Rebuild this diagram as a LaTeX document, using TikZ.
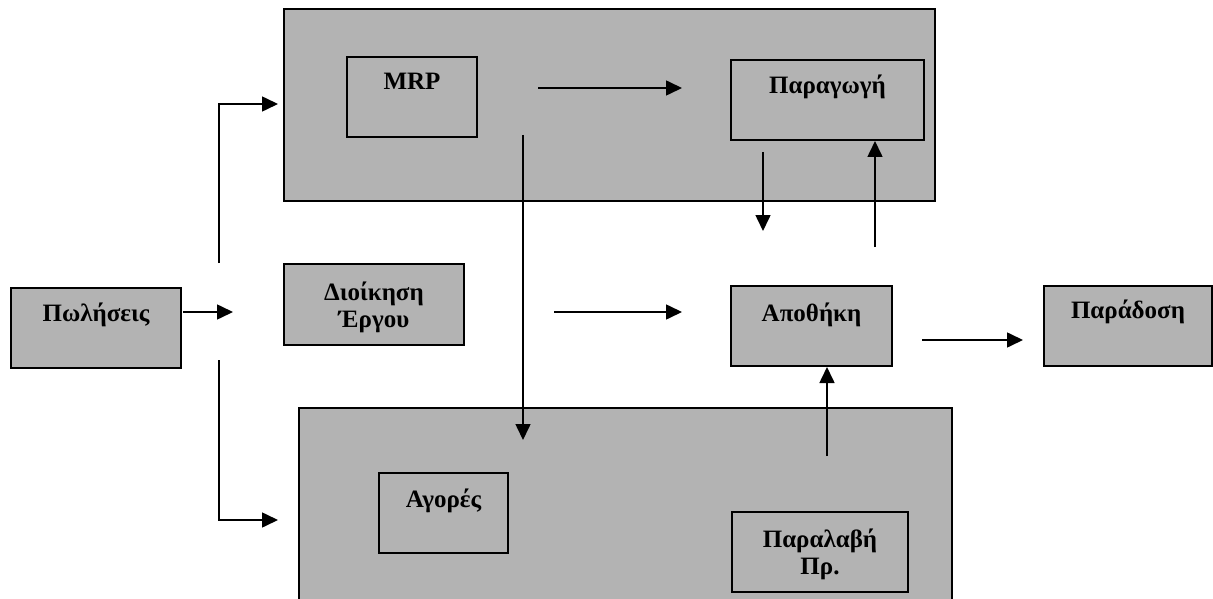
\documentclass[tikz,border=0pt]{standalone}
\usepackage{fontspec}
\setmainfont{Liberation Serif}
\usetikzlibrary{arrows.meta,calc}
\definecolor{boxgray}{RGB}{179,179,179}
\begin{document}
\begin{tikzpicture}[x=1pt,y=-1pt,
  panel/.style={draw, line width=2.2pt, fill=boxgray, anchor=north west, inner sep=0pt},
  unit/.style={draw, line width=2pt, fill=boxgray, anchor=north west, inner sep=0pt},
  lbl/.style={font=\bfseries\fontsize{25}{27}\selectfont, align=center, anchor=base, inner sep=0pt},
  flow/.style={line width=1.6pt, -{Triangle[length=16pt,width=15pt]}},
  wire/.style={line width=1.6pt}]
\useasboundingbox (0,0) rectangle (1213,599);

% large grey panels
\node[panel, minimum width=651pt, minimum height=192pt] (plan) at (283,8) {};
\node[panel, minimum width=653pt, minimum height=200pt] (supply) at (298,407) {};

% boxes
\node[unit, minimum width=130pt, minimum height=80pt] (mrp)   at (346,56)  {};
\node[unit, minimum width=193pt, minimum height=80pt] (prod)  at (730,59)  {};
\node[unit, minimum width=170pt, minimum height=80pt] (sales) at (10,287)  {};
\node[unit, minimum width=180pt, minimum height=81pt] (pm)    at (283,263) {};
\node[unit, minimum width=161pt, minimum height=80pt] (store) at (730,285) {};
\node[unit, minimum width=168pt, minimum height=80pt] (deliv) at (1043,285) {};
\node[unit, minimum width=129pt, minimum height=80pt] (buy)   at (378,472) {};
\node[unit, minimum width=176pt, minimum height=80pt] (recv)  at (731,511) {};

% labels (two-line labels are placed by their last baseline)
\node[lbl] (mrp-t)   at ($(mrp.north)+(0,34)$)   {MRP};
\node[lbl] (prod-t)  at ($(prod.north)+(0,35)$)  {Παραγωγή};
\node[lbl] (sales-t) at ($(sales.north)+(0,34)$) {Πωλήσεις};
\node[lbl] (pm-t)    at ($(pm.north)+(0,64)$)    {Διοίκηση\\Έργου};
\node[lbl] (store-t) at ($(store.north)+(0,36)$) {Αποθήκη};
\node[lbl] (deliv-t) at ($(deliv.north)+(0,33)$) {Παράδοση};
\node[lbl] (buy-t)   at ($(buy.north)+(0,35)$)   {Αγορές};
\node[lbl] (recv-t)  at ($(recv.north)+(0,63)$)  {Παραλαβή\\Πρ.};

% free ends of the connectors
\coordinate (s-out)   at (183,312);
\coordinate (s-in)    at (233,312);
\coordinate (fork-up) at (219,263);
\coordinate (bend-up) at (219,104);
\coordinate (plan-in) at (278,104);
\coordinate (fork-dn) at (219,360);
\coordinate (bend-dn) at (219,520);
\coordinate (sup-in)  at (278,520);
\coordinate (pm-out)  at (554,312);
\coordinate (st-in)   at (682,312);
\coordinate (st-out)  at (922,340);
\coordinate (dl-in)   at (1023,340);
\coordinate (mrp-out) at (538,88);
\coordinate (pr-in)   at (682,88);
\coordinate (v-top)   at (523,135);
\coordinate (v-bot)   at (523,440);
\coordinate (pr-out)  at (763,152);
\coordinate (pr-dn)   at (763,231);
\coordinate (up-bot)  at (875,247);
\coordinate (rc-top)  at (827,456);

% connectors
\draw[flow] (s-out) -- (s-in);
\draw[flow] (fork-up) -- (bend-up) -- (plan-in);
\draw[flow] (fork-dn) -- (bend-dn) -- (sup-in);
\draw[flow] (pm-out) -- (st-in);
\draw[flow] (st-out) -- (dl-in);
\draw[flow] (mrp-out) -- (pr-in);
\draw[flow] (v-top) -- (v-bot);
\draw[flow] (pr-out) -- (pr-dn);
\draw[flow] (up-bot) -- (up-bot |- prod.south);
\draw[flow] (rc-top) -- (rc-top |- store.south);
\end{tikzpicture}
\end{document}
